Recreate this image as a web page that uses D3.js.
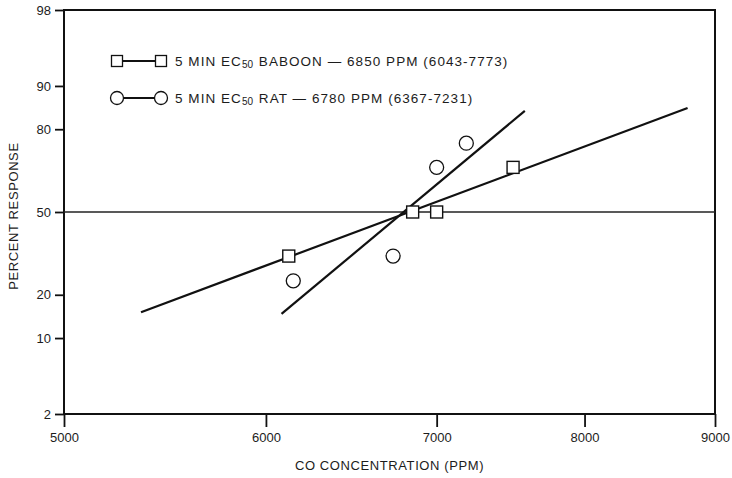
<!DOCTYPE html>
<html lang="en">
<head>
<meta charset="utf-8">
<title>Percent response vs CO concentration</title>
<script src="https://cdn.jsdelivr.net/npm/d3@7"></script>
<style>
  body, html { margin:0; padding:0; background:#fff; }
  text { font-family:"Liberation Sans", Arial, sans-serif; fill:#1c1c1c; }
  .axis path { display:none; }
  .axis line { stroke:#111; stroke-width:1.8; }
</style>
</head>
<body>
<svg id="chart" width="732" height="478"></svg>
<script>
// tick labels
var yTicks = [2, 10, 20, 50, 80, 90, 98];
var xTicks = [5000, 6000, 7000, 8000, 9000];

// observed points (ppm, percent)
var baboonDose = [6125, 6850, 7000, 7500];
var baboonPct  = [32.7, 50, 50, 67.5];
var ratDose    = [6150, 6730, 7000, 7190];
var ratPct     = [24.2, 32.7, 67.5, 75.8];

// fitted probit lines, end points
var baboonFitDose = [5360, 8780];
var baboonFitPct  = [15.4, 85.5];
var ratFitDose    = [6085, 7580];
var ratFitPct     = [15.0, 84.8];

var legendRows = [
  { shape:'square', pre:'5 MIN EC', sub:'50', post:' BABOON \u2014 6850 PPM (6043-7773)' },
  { shape:'circle', pre:'5 MIN EC', sub:'50', post:' RAT \u2014 6780 PPM (6367-7231)' }
];

// inverse normal cdf (Acklam)
function probit(p) {
  var a = [-39.6968302866538, 220.946098424521, -275.928510446969, 138.357751867269, -30.6647980661472, 2.50662827745924];
  var b = [-54.4760987982241, 161.585836858041, -155.698979859887, 66.8013118877197, -13.2806815528857];
  var c = [-0.00778489400243029, -0.322396458041136, -2.40075827716184, -2.54973253934373, 4.37466414146497, 2.93816398269878];
  var d = [0.00778469570904146, 0.32246712907004, 2.445134137143, 3.75440866190742];
  var pl = 0.02425, q, r;
  if (p < pl) {
    q = Math.sqrt(-2 * Math.log(p));
    return (((((c[0]*q+c[1])*q+c[2])*q+c[3])*q+c[4])*q+c[5]) / ((((d[0]*q+d[1])*q+d[2])*q+d[3])*q+1);
  } else if (p <= 1 - pl) {
    q = p - 0.5; r = q * q;
    return (((((a[0]*r+a[1])*r+a[2])*r+a[3])*r+a[4])*r+a[5])*q / (((((b[0]*r+b[1])*r+b[2])*r+b[3])*r+b[4])*r+1);
  }
  q = Math.sqrt(-2 * Math.log(1 - p));
  return -(((((c[0]*q+c[1])*q+c[2])*q+c[3])*q+c[4])*q+c[5]) / ((((d[0]*q+d[1])*q+d[2])*q+d[3])*q+1);
}

var svg = d3.select('#chart');
var m = { left: 64, right: 715, top: 10, bottom: 414 };

var x = d3.scaleLog().domain([5000, 9000]).range([m.left, m.right]);
var z = d3.scaleLinear().domain([probit(0.02), probit(0.98)]).range([m.bottom, m.top]);
function yp(pct) { return z(probit(pct / 100)); }

// frame
svg.append('rect')
  .attr('x', m.left).attr('y', m.top)
  .attr('width', m.right - m.left).attr('height', m.bottom - m.top)
  .attr('fill', 'none').attr('stroke', '#111').attr('stroke-width', 2);

// axes
svg.append('g').attr('class', 'axis')
  .attr('transform', 'translate(' + m.left + ',0)')
  .call(d3.axisLeft(z)
    .tickValues(yTicks.map(function(p){ return probit(p / 100); }))
    .tickFormat(function(d, i){ return yTicks[i]; })
    .tickSize(9).tickPadding(4))
  .selectAll('text').style('font-size', '13px');

svg.append('g').attr('class', 'axis')
  .attr('transform', 'translate(0,' + m.bottom + ')')
  .call(d3.axisBottom(x).tickValues(xTicks).tickFormat(d3.format('d'))
    .tickSize(13).tickPadding(6))
  .selectAll('text').style('font-size', '13px');

// axis titles
svg.append('text')
  .attr('x', (m.left + m.right) / 2).attr('y', 470)
  .attr('text-anchor', 'middle')
  .style('font-size', '13px').style('letter-spacing', '0.6px')
  .text('CO CONCENTRATION (PPM)');

svg.append('text')
  .attr('transform', 'translate(18,216) rotate(-90)')
  .attr('text-anchor', 'middle')
  .style('font-size', '13px').style('letter-spacing', '0.6px')
  .text('PERCENT RESPONSE');

// 50% line
svg.append('line')
  .attr('x1', m.left).attr('x2', m.right)
  .attr('y1', yp(50)).attr('y2', yp(50))
  .attr('stroke', '#222').attr('stroke-width', 1.5);

// fitted lines
var line = d3.line().x(function(d){ return x(d[0]); }).y(function(d){ return yp(d[1]); });
svg.append('path')
  .datum(d3.zip(baboonFitDose, baboonFitPct))
  .attr('d', line).attr('fill', 'none').attr('stroke', '#111').attr('stroke-width', 2.2);
svg.append('path')
  .datum(d3.zip(ratFitDose, ratFitPct))
  .attr('d', line).attr('fill', 'none').attr('stroke', '#111').attr('stroke-width', 2.2);

// points
var sq = 12;
svg.selectAll('.baboon')
  .data(d3.zip(baboonDose, baboonPct))
  .enter().append('rect')
  .attr('class', 'baboon')
  .attr('x', function(d){ return x(d[0]) - sq / 2; })
  .attr('y', function(d){ return yp(d[1]) - sq / 2; })
  .attr('width', sq).attr('height', sq)
  .attr('fill', '#fff').attr('stroke', '#111').attr('stroke-width', 1.4);

svg.selectAll('.rat')
  .data(d3.zip(ratDose, ratPct))
  .enter().append('circle')
  .attr('class', 'rat')
  .attr('cx', function(d){ return x(d[0]); })
  .attr('cy', function(d){ return yp(d[1]); })
  .attr('r', 7)
  .attr('fill', '#fff').attr('stroke', '#111').attr('stroke-width', 1.3);

// legend
var lg = svg.append('g');
legendRows.forEach(function(row, i) {
  var ly = 61 + i * 37;
  var g = lg.append('g').attr('transform', 'translate(0,' + ly + ')');
  g.append('line').attr('x1', 120).attr('x2', 158).attr('y1', 0).attr('y2', 0)
    .attr('stroke', '#111').attr('stroke-width', 2);
  [117, 161].forEach(function(cx) {
    if (row.shape === 'square') {
      g.append('rect').attr('x', cx - 5.5).attr('y', -5.5).attr('width', 11).attr('height', 11)
        .attr('fill', '#fff').attr('stroke', '#111').attr('stroke-width', 1.3);
    } else {
      g.append('circle').attr('cx', cx).attr('cy', 0).attr('r', 6.5)
        .attr('fill', '#fff').attr('stroke', '#111').attr('stroke-width', 1.3);
    }
  });
  var t = g.append('text').attr('x', 175).attr('y', 5)
    .style('font-size', '13.5px').style('letter-spacing', '1.05px');
  t.append('tspan').text(row.pre);
  t.append('tspan').attr('dy', 2).style('font-size', '10px').style('letter-spacing', '0px').text(row.sub);
  t.append('tspan').attr('dy', -2).attr('dx', 1).text(row.post);
});
</script>
</body>
</html>
